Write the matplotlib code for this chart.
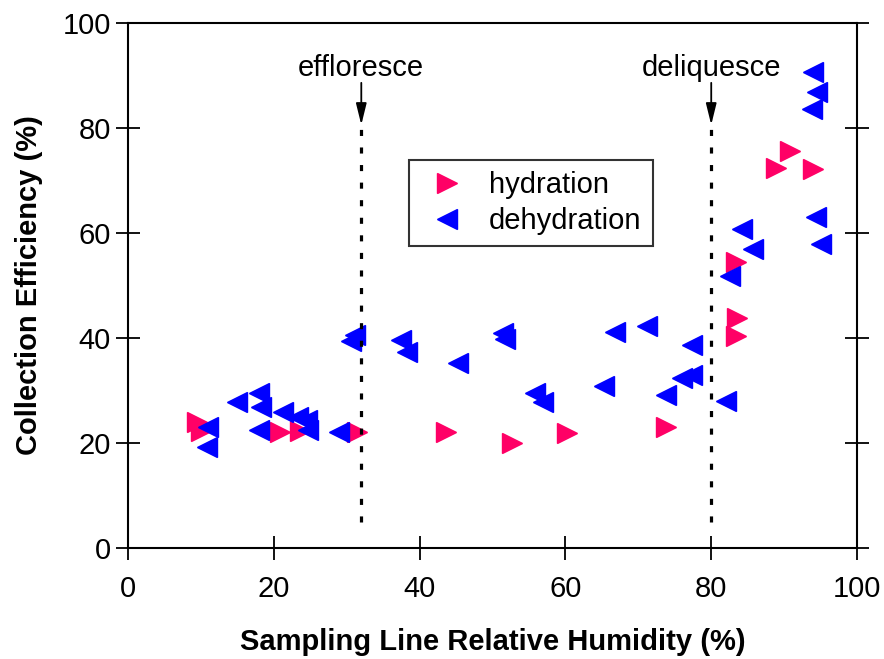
import numpy as np
import matplotlib
matplotlib.use('Agg')
import matplotlib.pyplot as plt

plt.rcParams['font.family'] = ['Liberation Sans', 'DejaVu Sans']

# hydration points (RH %, efficiency %)
hyd_x = [9.5, 10.0, 20.8, 23.6, 31.4, 43.6, 52.7, 60.2, 73.8, 83.4, 83.5, 83.4, 88.9, 90.8, 94.0]
hyd_y = [24.0, 22.3, 22.1, 22.3, 22.1, 22.1, 20.0, 21.9, 23.1, 40.3, 43.9, 54.4, 72.3, 75.6, 72.1]

# dehydration points
deh_x = [11.0, 10.8, 15.0, 17.9, 18.2, 21.3, 23.3, 24.5, 24.7, 17.9, 28.9, 31.1, 30.6,
         37.5, 38.3, 45.3, 51.4, 51.7, 55.8, 56.9, 66.8, 71.2, 77.4, 76.0, 77.3, 65.3,
         73.8, 82.0, 82.6, 84.2, 85.7, 94.4, 95.1, 94.0, 94.5, 93.8]
deh_y = [23.1, 19.3, 27.9, 29.6, 26.9, 26.0, 25.0, 24.4, 22.5, 22.5, 22.1, 40.6, 39.5,
         39.7, 37.4, 35.3, 41.0, 39.9, 29.6, 27.9, 41.2, 42.2, 38.7, 32.3, 33.0, 30.9,
         29.2, 28.0, 51.9, 60.7, 56.9, 63.0, 58.0, 90.6, 86.8, 83.6]

# transition lines
trans_x = [32, 80]
trans_lbl = ['effloresce', 'deliquesce']

fig = plt.figure(figsize=(8.84, 6.59), dpi=100)
ax = fig.add_axes([0.1448, 0.1684, 0.8247, 0.7967])

ax.plot(hyd_x, hyd_y, linestyle='none', marker='>', markersize=14,
        color='#FF0066', label='hydration', zorder=2)
ax.plot(deh_x, deh_y, linestyle='none', marker='<', markersize=14,
        color='#0000FF', label='dehydration', zorder=3)

for x, lbl in zip(trans_x, trans_lbl):
    ax.plot([x, x], [5, 80.6], color='k', lw=2.3, linestyle=(0, (1.9, 3.6)), zorder=4)
    ax.annotate('', xy=(x, 80.6), xytext=(x, 88.6),
                arrowprops=dict(arrowstyle='-|>,head_length=0.65,head_width=0.16',
                                color='k', lw=1.3, mutation_scale=20,
                                shrinkA=0, shrinkB=0))
    ax.text(x, 91.5, lbl, ha='center', va='center', fontsize=21)

ax.set_xlim(0, 100)
ax.set_ylim(0, 100)
ax.set_xticks([0, 20, 40, 60, 80, 100])
ax.set_yticks([0, 20, 40, 60, 80, 100])
ax.tick_params(direction='inout', length=17, width=1.3, labelsize=21,
               top=False, right=True, pad=4)
ax.tick_params(axis='x', pad=11)
for s in ax.spines.values():
    s.set_linewidth(1.5)

ax.set_xlabel('Sampling Line Relative Humidity (%)', fontsize=21, fontweight='bold', labelpad=18)
ax.set_ylabel('Collection Efficiency (%)', fontsize=21, fontweight='bold', labelpad=14)

leg = ax.legend(loc='upper left', bbox_to_anchor=(0.385, 0.739), borderaxespad=0,
                fontsize=21, frameon=True, fancybox=False, edgecolor='k',
                handletextpad=0.48, labelspacing=0.27, borderpad=0.38, handlelength=1.9,
                markerscale=1.0)
leg.get_frame().set_linewidth(1.5)

plt.savefig('out.png', dpi=100)
